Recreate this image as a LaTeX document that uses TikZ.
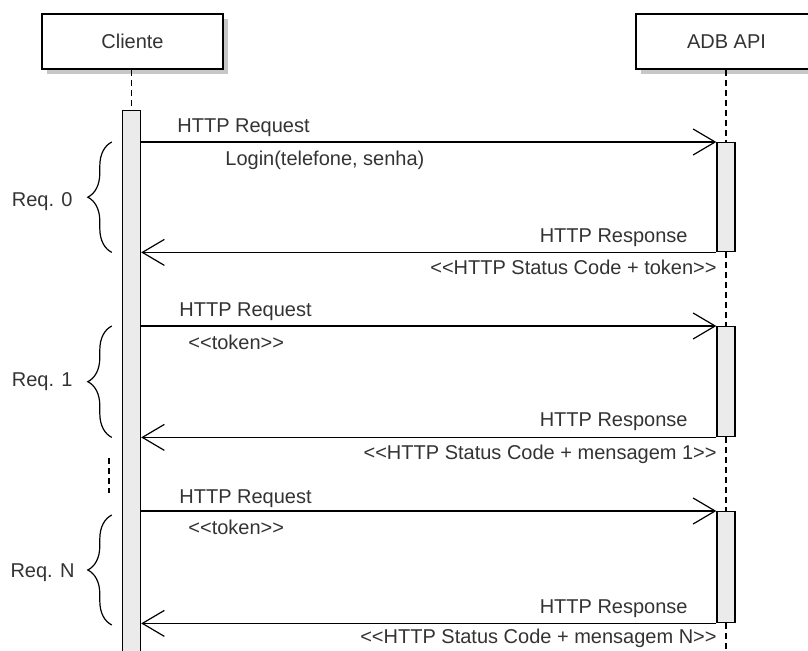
\documentclass[tikz,border=0pt]{standalone}
\usepackage{fontspec}
\setmainfont{Liberation Sans}
\usetikzlibrary{arrows.meta,positioning,shadows,decorations.pathreplacing}
\newcommand{\opn}{\textless\kern0pt\textless\kern0pt}
\newcommand{\cls}{\kern0pt\textgreater\kern0pt\textgreater}

\begin{document}
\begin{tikzpicture}[
  x=0.5pt,y=-0.5pt,
  font=\fontsize{10}{12}\selectfont,
  actor/.style={draw,line width=1pt,fill=white,minimum width=90.5pt,minimum height=27.5pt,
                inner sep=0pt,text=black!80,
                drop shadow={shadow xshift=2.5pt,shadow yshift=-2.5pt,fill=black!22,opacity=1}},
  actbar/.style={draw,line width=0.7pt,fill=black!8,minimum width=9pt,inner sep=0pt},
  life/.style={dash pattern=on 3pt off 2pt,line width=0.6pt},
  msg/.style={-{Straight Barb[length=11pt,width=13pt,line width=0.6pt]},line width=0.6pt},
  lbl/.style={inner sep=0pt,text=black!80},
  grp/.style={decorate,decoration={brace,amplitude=12pt},line width=0.6pt}
]
\useasboundingbox (0,0) rectangle (808,651);

% participants
\node[actor] (cli) at (132.5,41.5) {Cliente};
\node[actor] (api) at (726.5,41.5) {ADB API};

% activations
\node[actbar,anchor=north,minimum height=280pt] (clibar) at (131.5,110) {};
\node[actbar,anchor=north,minimum height=54.5pt] (srv0) at (726,142) {};
\node[actbar,anchor=north,minimum height=55pt] (srv1) at (726,326) {};
\node[actbar,anchor=north,minimum height=55.5pt] (srvN) at (726,511) {};

% lifelines
\coordinate (bottom) at (726,660);
\draw[life] (cli.south -| clibar) -- (clibar.north);
\draw[life] (api.south -| srv0) -- (srv0.north);
\draw[life] (srv0.south) -- (srv1.north);
\draw[life] (srv1.south) -- (srvN.north);
\draw[life] (srvN.south) -- (bottom);

% messages
\draw[msg] (clibar.east |- srv0.north) -- (srv0.north west);
\draw[msg] (srv0.south west) -- (clibar.east |- srv0.south);
\draw[msg] (clibar.east |- srv1.north) -- (srv1.north west);
\draw[msg] (srv1.south west) -- (clibar.east |- srv1.south);
\draw[msg] (clibar.east |- srvN.north) -- (srvN.north west);
\draw[msg] (srvN.south west) -- (clibar.east |- srvN.south);

% message labels
\node[lbl,anchor=base west] (rq0) at (177,133) {HTTP Request};
\node[lbl,anchor=base west] (lg0) at (225,166) {Login(telefone, senha)};
\node[lbl,anchor=base east] (rs0) at (688,243) {HTTP Response};
\node[lbl,anchor=base east] (st0) at (717,275) {\opn HTTP Status Code + token\cls};

\node[lbl,anchor=base west] (rq1) at (179,317) {HTTP Request};
\node[lbl,anchor=base west] (tk1) at (188,350) {\opn token\cls};
\node[lbl,anchor=base east] (rs1) at (688,427) {HTTP Response};
\node[lbl,anchor=base east] (st1) at (717,460) {\opn HTTP Status Code + mensagem 1\cls};

\node[lbl,anchor=base west] (rqN) at (179,503) {HTTP Request};
\node[lbl,anchor=base west] (tkN) at (188,535) {\opn token\cls};
\node[lbl,anchor=base east] (rsN) at (688,613) {HTTP Response};
\node[lbl,anchor=base east] (stN) at (717,643) {\opn HTTP Status Code + mensagem N\cls};

% request groups
\draw[grp] ([xshift=-5pt]clibar.west |- srv0.south) -- ([xshift=-5pt]clibar.west |- srv0.north);
\draw[grp] ([xshift=-5pt]clibar.west |- srv1.south) -- ([xshift=-5pt]clibar.west |- srv1.north);
\draw[grp] ([xshift=-5pt]clibar.west |- 0,625) -- ([xshift=-5pt]clibar.west |- 0,515);
\node[lbl,anchor=base east] (g0) at (73,207) {Req. 0};
\node[lbl,anchor=base east] (g1) at (73,387) {Req. 1};
\node[lbl,anchor=base east] (gN) at (75,577) {Req. N};

% elided requests
\coordinate (gaptop) at (109,458);
\coordinate (gapbot) at (109,493);
\draw[life] (gaptop) -- (gapbot);
\end{tikzpicture}
\end{document}
